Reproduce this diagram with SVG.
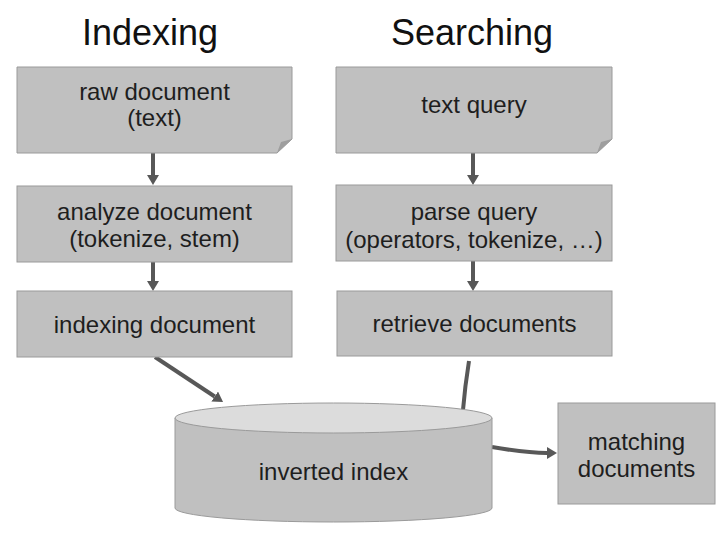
<svg xmlns="http://www.w3.org/2000/svg" width="720" height="540" viewBox="0 0 720 540">
  <style>
    .box { fill: #c0c0c0; stroke: #9a9a9a; stroke-width: 1; }
    .fold { fill: #9e9e9e; }
    .top { fill: #dcdcdc; stroke: #9a9a9a; stroke-width: 1; }
    .lbl { font-family: "Liberation Sans", Arial, sans-serif; font-size: 24px; fill: #1e1e1e; text-anchor: middle; }
    .title { font-family: "Liberation Sans", Arial, sans-serif; font-size: 36px; fill: #111; text-anchor: middle; }
    .edge { fill: none; stroke: #585858; stroke-width: 4; }
  </style>
  <defs>
    <marker id="head" viewBox="0 0 10 12" refX="0" refY="6" markerWidth="10" markerHeight="12" markerUnits="userSpaceOnUse" orient="auto">
      <path d="M0,0 L10,6 L0,12 z" fill="#585858"/>
    </marker>
  </defs>

  <rect width="720" height="540" fill="#fff"/>

  <text class="title" x="150" y="45">Indexing</text>
  <text class="title" x="472" y="45">Searching</text>

  <!-- connectors -->
  <g id="connectors">
    <path class="edge" d="M153,153 L153,175" marker-end="url(#head)"/>
    <path class="edge" d="M153,262 L153,281" marker-end="url(#head)"/>
    <path class="edge" d="M473,153 L473,175" marker-end="url(#head)"/>
    <path class="edge" d="M473,261 L473,281" marker-end="url(#head)"/>
    <path class="edge" d="M155,357 L214.7,396.5" marker-end="url(#head)"/>
    <path class="edge" d="M469,361 Q465,386 463,410"/>
    <path class="edge" d="M492,447 C515,451 530,453 547,453" marker-end="url(#head)"/>
  </g>

  <g id="raw-document">
    <path class="box" d="M17,67 H292 V139 L277,153 H17 Z"/>
    <path class="fold" d="M277,153 L281,142 L292,139 Z"/>
    <text class="lbl" x="154.5" y="100">raw document</text>
    <text class="lbl" x="154.5" y="126">(text)</text>
  </g>

  <g id="text-query">
    <path class="box" d="M336,67 H612 V139 L597,153 H336 Z"/>
    <path class="fold" d="M597,153 L601,142 L612,139 Z"/>
    <text class="lbl" x="474" y="113">text query</text>
  </g>

  <g id="analyze-document">
    <rect class="box" x="17" y="186" width="275" height="76"/>
    <text class="lbl" x="154.5" y="220">analyze document</text>
    <text class="lbl" x="154.5" y="247">(tokenize, stem)</text>
  </g>

  <g id="parse-query">
    <rect class="box" x="336" y="185" width="276" height="76"/>
    <text class="lbl" x="474" y="220">parse query</text>
    <text class="lbl" x="474" y="248">(operators, tokenize, …)</text>
  </g>

  <g id="indexing-document">
    <rect class="box" x="17" y="291" width="275" height="66"/>
    <text class="lbl" x="154.5" y="333">indexing document</text>
  </g>

  <g id="retrieve-documents">
    <rect class="box" x="337" y="291" width="275" height="65"/>
    <text class="lbl" x="474.5" y="332">retrieve documents</text>
  </g>

  <g id="inverted-index">
    <path class="box" d="M175,418 V508 A158.5,14 0 0 0 492,508 V418 Z"/>
    <ellipse class="top" cx="333.5" cy="418" rx="158.5" ry="15"/>
    <text class="lbl" x="333.5" y="480">inverted index</text>
  </g>

  <g id="matching-documents">
    <rect class="box" x="558" y="403" width="157" height="101"/>
    <text class="lbl" x="636.5" y="450">matching</text>
    <text class="lbl" x="636.5" y="477">documents</text>
  </g>
</svg>
